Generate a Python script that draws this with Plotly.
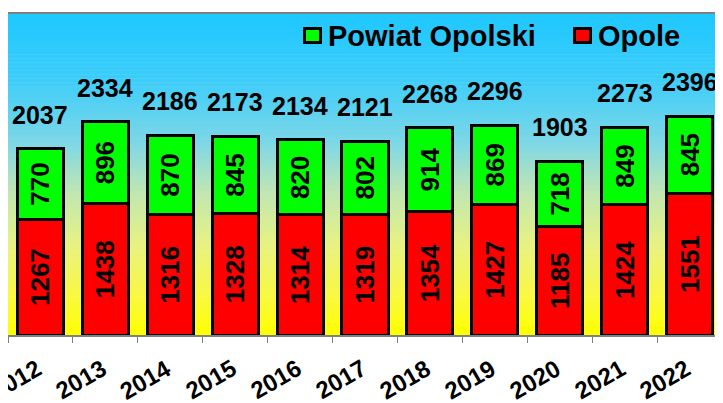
import plotly.graph_objects as go

years = ["2012", "2013", "2014", "2015", "2016", "2017", "2018", "2019", "2020", "2021", "2022"]
opole = [1267, 1438, 1316, 1328, 1314, 1319, 1354, 1427, 1185, 1424, 1551]
powiat = [770, 896, 870, 845, 820, 802, 914, 869, 718, 849, 845]
totals = [a + b for a, b in zip(opole, powiat)]

FONT = "Liberation Sans, Arial, sans-serif"

# page has an 8px body margin; geometry below is in screen pixels
OFF = 8
PX0, PW, PY0, PH = 8, 714, 14, 321


def px(x):
    return (x - PX0) / PW


def py(y):
    return (PY0 + PH - y) / PH


fig = go.Figure()
fig.add_trace(go.Bar(
    x=years, y=opole, name="Opole",
    marker=dict(color="#FF0000", line=dict(color="black", width=3)),
    text=opole, textposition="inside", insidetextanchor="middle", textangle=-90,
    textfont=dict(family=FONT, size=26, color="black", weight="bold"),
    width=0.71, showlegend=False,
))
fig.add_trace(go.Bar(
    x=years, y=powiat, name="Powiat Opolski",
    marker=dict(color="#00FF00", line=dict(color="black", width=3)),
    text=powiat, textposition="inside", insidetextanchor="middle", textangle=-90,
    textfont=dict(family=FONT, size=26, color="black", weight="bold"),
    width=0.71, showlegend=False,
))

annotations = []
for i, t in enumerate(totals):
    annotations.append(dict(
        x=i, y=t, xref="x", yref="y", text=str(t), showarrow=False,
        xanchor="center", yanchor="middle", yshift=34,
        font=dict(family=FONT, size=25, color="black", weight="bold"),
    ))

# category labels (rotated), placed under each category
for i, yr in enumerate(years):
    annotations.append(dict(
        x=i, y=py(379), xref="x", yref="paper", text=yr, showarrow=False,
        xanchor="center", yanchor="middle", xshift=-25, textangle=-30,
        font=dict(family=FONT, size=24, color="black", weight="bold"),
    ))

# gradient background
stops = [
    (0.00, (30, 200, 255)),
    (0.20, (60, 205, 250)),
    (0.40, (125, 215, 230)),
    (0.55, (190, 230, 180)),
    (0.72, (232, 242, 130)),
    (0.87, (248, 248, 70)),
    (1.00, (255, 255, 0)),
]


def color_at(f):
    for (f0, c0), (f1, c1) in zip(stops[:-1], stops[1:]):
        if f0 <= f <= f1:
            t = (f - f0) / (f1 - f0) if f1 > f0 else 0
            return "rgb(%d,%d,%d)" % tuple(round(a + (b - a) * t) for a, b in zip(c0, c1))
    return "rgb(255,255,0)"


shapes = []
N = 80
for i in range(N):
    f = (i + 0.5) / N
    shapes.append(dict(
        type="rect", xref="paper", yref="paper", layer="below",
        x0=0, x1=1, y0=1 - (i + 1) / N - 0.002, y1=1 - i / N,
        fillcolor=color_at(f), line=dict(width=0),
    ))

# manual legend
for (x0, x1, col, label, tx) in [
    (304.5, 320.5, "#00FF00", "Powiat Opolski", 326),
    (574.5, 590.5, "#FF0000", "Opole", 596),
]:
    shapes.append(dict(
        type="rect", xref="paper", yref="paper", layer="above",
        x0=px(x0), x1=px(x1), y0=py(42.5), y1=py(28.5),
        fillcolor=col, line=dict(color="black", width=3),
    ))
    annotations.append(dict(
        xref="paper", yref="paper", x=px(tx), y=py(36), text=label,
        showarrow=False, xanchor="left", yanchor="middle",
        font=dict(family=FONT, size=29, color="black", weight="bold"),
    ))

W, H = 715, 395
fig.update_layout(
    barmode="stack",
    width=W, height=H,
    margin=dict(l=PX0 - OFF, r=W - (PX0 - OFF) - PW, t=PY0 - OFF,
                b=H - (PY0 - OFF) - PH, autoexpand=False),
    paper_bgcolor="white",
    plot_bgcolor="rgba(0,0,0,0)",
    shapes=shapes,
    annotations=annotations,
    showlegend=False,
    xaxis=dict(
        type="category", range=[-0.5, 10.5], tickson="boundaries", ticks="outside", ticklen=6,
        tickcolor="#808080", tickwidth=1, automargin=False, showticklabels=False,
        showline=True, linecolor="#808080", linewidth=2, mirror=True,
        showgrid=False,
    ),
    yaxis=dict(
        range=[0, 3512], showticklabels=False, showgrid=False, zeroline=False,
        showline=True, linecolor="#808080", linewidth=2, mirror=True, ticks="",
        automargin=False,
    ),
)

fig.write_html("out.html")
